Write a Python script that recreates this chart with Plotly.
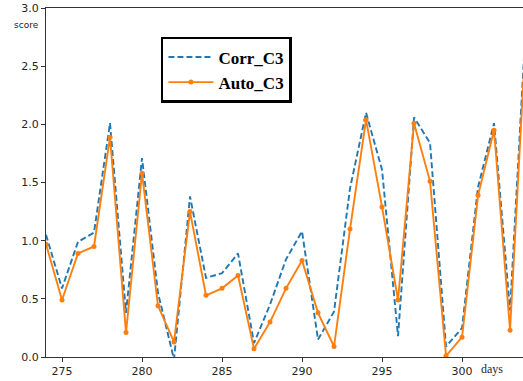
import plotly.graph_objects as go

days = list(range(274, 305))
corr_c3 = [1.05, 0.59, 0.99, 1.07, 2.01, 0.38, 1.71, 0.55, -0.02, 1.38,
           0.68, 0.72, 0.89, 0.12, 0.45, 0.84, 1.08, 0.15, 0.39, 1.45,
           2.10, 1.61, 0.18, 2.06, 1.84, 0.09, 0.25, 1.46, 2.01, 0.40, 2.90]
auto_c3 = [0.97, 0.49, 0.89, 0.95, 1.89, 0.21, 1.58, 0.44, 0.13, 1.25,
           0.53, 0.59, 0.70, 0.07, 0.30, 0.59, 0.83, 0.38, 0.09, 1.10,
           2.04, 1.29, 0.49, 2.01, 1.51, 0.01, 0.17, 1.39, 1.95, 0.23, 2.80]
x_ticks = [275, 280, 285, 290, 295, 300]
y_ticks = [0.0, 0.5, 1.0, 1.5, 2.0, 2.5, 3.0]

fig = go.Figure()
fig.add_trace(go.Scatter(
    x=days, y=corr_c3, name="Corr_C3", mode="lines",
    line=dict(color="#1f77b4", width=1.9, dash="6px,3px"),
))
fig.add_trace(go.Scatter(
    x=days, y=auto_c3, name="Auto_C3", mode="lines+markers",
    line=dict(color="#ff7f0e", width=1.9),
    marker=dict(color="#ff7f0e", size=5),
))

axis_font = dict(family="DejaVu Sans", size=11, color="#262626")
fig.update_layout(
    width=523, height=381,
    margin=dict(l=46, r=0, t=8, b=24),
    paper_bgcolor="white", plot_bgcolor="white",
    showlegend=True,
    legend=dict(
        x=0.241, y=0.917, xanchor="left", yanchor="top",
        bgcolor="white", bordercolor="black", borderwidth=2.5,
        font=dict(family="Liberation Serif", size=17, color="black", weight="bold"),
        itemsizing="trace", itemwidth=45, tracegroupgap=0,
    ),
    xaxis=dict(
        range=[274, 303.81], tickvals=x_ticks, ticktext=[str(t) for t in x_ticks],
        showgrid=False, zeroline=False, showline=True, linecolor="#333333",
        linewidth=1, mirror=True, ticks="outside", ticklen=4, tickcolor="#333333",
        tickfont=axis_font,
    ),
    yaxis=dict(
        range=[0, 3.0], tickvals=y_ticks, ticktext=[f"{t:.1f}" for t in y_ticks],
        showgrid=False, zeroline=False, showline=True, linecolor="#333333",
        linewidth=1, ticks="outside", ticklen=4, tickcolor="#333333",
        tickfont=axis_font,
    ),
    annotations=[
        dict(text="score", xref="paper", yref="paper", x=-0.04, y=0.95,
             xanchor="center", yanchor="middle", showarrow=False,
             font=dict(family="DejaVu Sans", size=9, color="#262626")),
        dict(text="days", xref="paper", yref="paper", x=0.935, y=-0.035,
             xanchor="center", yanchor="middle", showarrow=False,
             font=dict(family="Liberation Serif", size=12, color="#262626")),
    ],
)

fig.write_html("out.html", config={"displayModeBar": False},
               post_script="document.body.style.margin='0';")
